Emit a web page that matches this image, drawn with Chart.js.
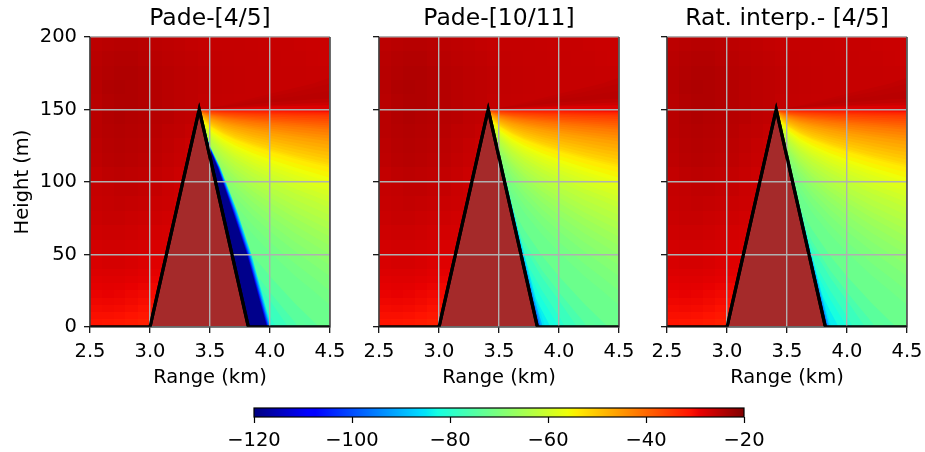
<!DOCTYPE html>
<html>
<head>
<meta charset="utf-8">
<title>Pade vs rational interpolation</title>
<script src="https://cdn.jsdelivr.net/npm/chart.js@4/dist/chart.umd.min.js"></script>
<style>
    body { margin: 0; background: #fff; }
    #wrap { position: relative; width: 925px; height: 452px; overflow: hidden; }
    canvas { position: absolute; left: 0; top: 0; }
</style>
</head>
<body>
<div id="wrap">
    <canvas id="panel0" width="925" height="452"></canvas>
    <canvas id="panel1" width="925" height="452"></canvas>
    <canvas id="panel2" width="1000" height="452"></canvas>
    <canvas id="colorbar" width="925" height="452"></canvas>
</div>
<script>
const panelTitles = ['Pade-[4/5]', 'Pade-[10/11]', 'Rat. interp.- [4/5]'];
const rangeTicks = [2.5, 3.0, 3.5, 4.0, 4.5];
const heightTicks = [0, 50, 100, 150, 200];
const colorbarTicks = [-120, -100, -80, -60, -40, -20];

// terrain outline
const terrainRange = [2.5, 3.0, 3.41, 3.82, 4.5];
const terrainHeight = [0, 0, 150, 0, 0];
const hillRange = [3.0, 3.41, 3.82];
const hillHeight = [0, 150, 0];

// lit field, dB, rows top to bottom. cell edges are cellRanges / cellTops
const cellRanges = [2.5, 2.6, 2.7, 2.8, 2.9, 3.0, 3.1, 3.2, 3.3, 3.4, 3.5, 3.6, 3.7, 3.8, 3.9, 4.0, 4.1, 4.2, 4.3, 4.4, 4.5];
const cellTops = [200, 190, 180, 170, 160, 150, 140, 130, 120, 110, 100, 90, 80, 70, 60, 50, 40, 35, 30, 25, 20, 15, 10, 5, 0];
const litField = [
    [-25.2, -25, -24.8, -24.8, -25, -25.2, -25.4, -25.6, -25.8, -26, -26, -26, -26, -26.1, -26.2, -26.2, -26.2, -26.3, -26.4, -26.4],
    [-25, -24.6, -24.4, -24.4, -24.8, -25, -25.2, -25.4, -25.6, -25.8, -25.8, -25.9, -26, -26, -26.1, -26.1, -26.2, -26.2, -26.3, -26.4],
    [-24.8, -24.4, -24.2, -24.2, -24.4, -24.8, -25, -25.2, -25.4, -25.6, -25.7, -25.8, -25.9, -26, -26, -26.1, -26.1, -26.1, -26.2, -26.2],
    [-24.8, -24.2, -24, -24.2, -24.4, -24.6, -25, -25.2, -25.4, -25.6, -25.7, -25.8, -25.9, -26, -26, -26.1, -26.1, -26.1, -26.1, -26.1],
    [-25, -24.4, -24.2, -24.2, -24.4, -24.6, -25, -25.2, -25.4, -25.7, -25.8, -25.9, -26, -26, -26, -26, -26, -26, -26, -26],
    [-25, -24.4, -24.2, -24.4, -24.6, -24.8, -25, -25.4, -25.6],
    [-25, -24.6, -24.4, -24.6, -24.8, -25, -25.4, -25.6, -26],
    [-25.2, -24.8, -24.6, -24.8, -25, -25.2, -25.6, -26, -26.4],
    [-25.4, -25, -24.8, -25, -25.2, -25.4, -25.8, -26.2, -26.6],
    [-25.8, -25.4, -25.2, -25.4, -25.6, -25.8, -26.2, -26.6, -27],
    [-26, -25.8, -25.6, -25.6, -25.8, -26, -26.4, -26.8, -27.2],
    [-26.2, -26, -25.8, -26, -26.2, -26.4, -26.6, -27, -27.4],
    [-26.4, -26.2, -26.2, -26.4, -26.6, -26.8, -27, -27.2, -27.6],
    [-26.8, -26.6, -26.6, -26.8, -27, -27.2, -27.4, -27.6],
    [-27.2, -27, -27, -27.2, -27.4, -27.6, -27.8],
    [-27.6, -27.4, -27.4, -27.6, -28, -28.2, -28.4],
    [-28, -27.9, -27.9, -28.1, -28.4, -28.7, -29],
    [-28.4, -28.2, -28.2, -28.5, -28.8, -29.2, -29.5],
    [-28.8, -28.6, -28.7, -29, -29.3, -29.7, -30],
    [-29.2, -29, -29.2, -29.5, -29.8, -30.2, -30.5],
    [-29.6, -29.5, -29.6, -29.9, -30.3, -30.7, -31],
    [-30.1, -30, -30.1, -30.4, -30.8, -31.2, -31.5],
    [-30.6, -30.6, -30.7, -31, -31.4, -31.8, -32.2],
    [-31, -31.2, -31.4, -31.8, -32.2, -32.8, -33.2]
];

// shadow zone as filled contours: height (m) of each level at contourRanges
const contourRanges = [3.43, 3.46, 3.51, 3.61, 3.71, 3.86, 4.01, 4.21, 4.36, 4.5];
const contourLevels = [-25.6, -25.2, -25, -25.6, -26.5, -28, -30, -32, -33, -34, -35, -36, -37, -38, -39, -40, -41, -42, -43, -44, -45, -46, -47, -48, -49, -50, -51, -52, -53, -54, -55, -56, -57, -58, -59, -60, -61, -62, -63, -64, -65, -66, -67, -68, -69, -70, -71, -72, -74, -76, -78, -80, -82, -84];
const contourHeights = [
    [150.3, 150.6, 151.5, 153, 155, 158, 161, 165, 168, 172],
    [150.2, 150.5, 151.2, 152.5, 154, 156.5, 159, 162, 165, 168],
    [150.2, 150.4, 151, 152, 153, 155, 157, 159, 161, 163],
    [150.1, 150.3, 150.7, 151.4, 152.2, 153.5, 155, 156, 157, 157.5],
    [150.1, 150.2, 150.5, 151, 151.5, 152.2, 153, 153.8, 154.4, 155],
    [150.1, 150.2, 150.3, 150.6, 151, 151.5, 152, 152.4, 152.8, 153],
    [150, 150, 150, 150, 150, 150, 150, 150, 150, 150],
    [149.8, 149.7, 149.6, 149.4, 149.2, 149.1, 148.9, 148.8, 148.6, 148.5],
    [149.7, 149.6, 149.4, 149.1, 148.8, 148.6, 148.4, 148.1, 147.9, 147.8],
    [149.6, 149.4, 149.1, 148.7, 148.4, 148.1, 147.8, 147.4, 147.2, 147],
    [149.5, 149.2, 148.8, 148.3, 147.9, 147.5, 147.1, 146.6, 146.3, 146],
    [149.3, 148.9, 148.5, 147.8, 147.4, 146.8, 146.3, 145.7, 145.3, 145],
    [149.1, 148.6, 148, 147.2, 146.6, 145.8, 145.2, 144.4, 143.9, 143.5],
    [148.9, 148.3, 147.5, 146.5, 145.8, 144.8, 144.1, 143.1, 142.5, 142],
    [148.7, 148, 147, 145.9, 145, 143.9, 143, 141.9, 141.2, 140.5],
    [148.5, 147.7, 146.6, 145.3, 144.2, 143, 141.9, 140.7, 139.8, 139],
    [148.3, 147.4, 146.2, 144.6, 143.4, 142, 140.8, 139.4, 138.4, 137.5],
    [148.1, 147.1, 145.7, 144, 142.6, 141, 139.7, 138.1, 137, 136],
    [147.8, 146.6, 145.1, 143.1, 141.5, 139.7, 138.2, 136.4, 135.1, 134],
    [147.6, 146.2, 144.5, 142.3, 140.5, 138.5, 136.8, 134.7, 133.3, 132],
    [147.3, 145.8, 143.9, 141.4, 139.4, 137.2, 135.3, 133, 131.4, 130],
    [147.1, 145.4, 143.3, 140.5, 138.4, 136, 133.8, 131.3, 129.6, 128],
    [146.7, 144.8, 142.5, 139.4, 137.1, 134.3, 131.9, 129.1, 127.2, 125.5],
    [146.4, 144.3, 141.7, 138.3, 135.8, 132.6, 130.1, 127, 124.9, 123],
    [146, 143.7, 141, 137.2, 134.4, 131, 128.2, 124.8, 122.5, 120.5],
    [145.7, 143.2, 140.2, 136.2, 133.1, 129.4, 126.4, 122.7, 120.2, 118],
    [145.3, 142.7, 139.4, 135.1, 131.8, 127.8, 124.5, 120.6, 117.9, 115.5],
    [145, 142.2, 138.7, 134.1, 130.5, 126.3, 122.7, 118.5, 115.7, 113],
    [144.8, 141.9, 138.2, 133.4, 129.7, 125.3, 121.6, 117.2, 114.2, 111.5],
    [144.6, 141.6, 137.7, 132.8, 128.9, 124.3, 120.5, 115.9, 112.8, 110],
    [144.1, 140.8, 136.6, 131.2, 127, 122, 117.9, 112.9, 109.5, 106.5],
    [143.7, 140.1, 135.6, 129.7, 125.2, 119.8, 115.3, 110, 106.3, 103],
    [143.3, 139.4, 134.6, 128.4, 123.6, 117.9, 113.1, 107.4, 103.5, 100],
    [142.9, 138.8, 133.7, 127.1, 122.1, 116, 110.9, 104.8, 100.7, 97],
    [142.4, 138.1, 132.6, 125.6, 120.2, 113.7, 108.3, 101.8, 97.4, 93.5],
    [142, 137.4, 131.6, 124.1, 118.4, 111.5, 105.7, 98.8, 94.2, 90],
    [141.4, 136.5, 130.4, 122.4, 116.3, 109, 102.8, 95.4, 90.6, 86],
    [140.9, 135.7, 129.2, 120.7, 114.2, 106.4, 100, 92.1, 87, 82],
    [140.2, 134.6, 127.6, 118.5, 111.5, 103.2, 96.2, 87.8, 82.2, 77],
    [139.5, 133.6, 126.1, 116.4, 108.9, 100, 92.5, 83.5, 77.5, 72],
    [138.8, 132.5, 124.5, 114.2, 106.2, 96.7, 88.8, 79.2, 72.8, 67],
    [138.2, 131.5, 123, 112.1, 103.6, 93.5, 85.1, 75, 68.2, 62],
    [137.4, 130.2, 121.1, 109.5, 100.4, 89.6, 80.6, 69.8, 62.6, 56],
    [136.6, 129, 119.3, 106.9, 97.3, 85.8, 76.2, 64.7, 57.1, 50],
    [135.6, 127.4, 117, 103.7, 93.4, 81, 70.7, 58.4, 50.2, 42.5],
    [134.6, 125.8, 114.8, 100.5, 89.5, 76.3, 65.3, 52.1, 43.3, 35],
    [133.3, 123.7, 111.7, 96.2, 84.2, 70, 58, 43.6, 34.1, 25],
    [132, 121.6, 108.7, 92, 79, 63.6, 50.7, 35.2, 25, 15],
    [129, 117, 102, 82, 67, 49, 34, 16, 4, 0],
    [127, 114, 97, 76, 59, 39, 23, 3, 0, 0],
    [126, 112, 95, 72, 55, 34, 17, 0, 0, 0],
    [124, 109, 90, 66, 47, 25, 6, 0, 0, 0],
    [123, 107, 88, 62, 43, 19, 0, 0, 0, 0],
    [121, 104, 83, 56, 36, 11, 0, 0, 0, 0]
];
// levels that meet the ground inside the panel, and where (km)
const footLevels = [-74, -76, -78, -80, -82, -84];
const footRanges = [4.41, 4.23, 4.15, 4.05, 4.0, 3.93];

// dark rim next to the lee slope: range (km) of each level at edgeHeights
const edgeHeights = [125, 110, 80, 50, 20, 0];
const edgeLevels = [-85, -90, -95, -100, -105, -112, -119];
const edgePade45 = [
    [3.497, 3.585, 3.725, 3.845, 3.944, 4.01],
    [3.495, 3.581, 3.718, 3.838, 3.937, 4.003],
    [3.493, 3.577, 3.712, 3.832, 3.931, 3.997],
    [3.492, 3.574, 3.705, 3.825, 3.924, 3.99],
    [3.49, 3.571, 3.7, 3.82, 3.919, 3.985],
    [3.489, 3.568, 3.695, 3.815, 3.914, 3.98],
    [3.487, 3.565, 3.69, 3.81, 3.909, 3.975]
];
const edgePade1011 = [
    [3.484, 3.53, 3.621, 3.711, 3.807, 3.885],
    [3.483, 3.526, 3.614, 3.701, 3.794, 3.865],
    [3.482, 3.524, 3.61, 3.695, 3.784, 3.85],
    [3.481, 3.522, 3.607, 3.691, 3.777, 3.84],
    [3.48, 3.521, 3.604, 3.688, 3.772, 3.832],
    [3.479, 3.52, 3.602, 3.685, 3.768, 3.825]
];
const edgeRatInterp = [
    [3.484, 3.527, 3.616, 3.705, 3.8, 3.87],
    [3.483, 3.525, 3.611, 3.699, 3.792, 3.855],
    [3.482, 3.523, 3.608, 3.694, 3.783, 3.843],
    [3.481, 3.522, 3.606, 3.691, 3.777, 3.835],
    [3.48, 3.521, 3.604, 3.688, 3.772, 3.829],
    [3.479, 3.52, 3.602, 3.685, 3.768, 3.824]
];
const panelEdges = [edgePade45, edgePade1011, edgeRatInterp];

// jet colormap anchors
const jetRed = [[0, 0], [0.35, 0], [0.66, 1], [0.89, 1], [1, 0.5]];
const jetGreen = [[0, 0], [0.125, 0], [0.375, 1], [0.64, 1], [0.91, 0], [1, 0]];
const jetBlue = [[0, 0.5], [0.11, 1], [0.34, 1], [0.65, 0], [1, 0]];
const colorbarStops = [0, 0.11, 0.125, 0.34, 0.35, 0.375, 0.64, 0.65, 0.66, 0.89, 0.91, 1];
const dbMin = -120;
const dbMax = -20;

function channel(anchors, t) {
    for (let i = 1; i < anchors.length; i++) {
        if (t <= anchors[i][0]) {
            const a = anchors[i - 1];
            const b = anchors[i];
            return a[1] + (b[1] - a[1]) * (t - a[0]) / (b[0] - a[0]);
        }
    }
    return anchors[anchors.length - 1][1];
}

function jetAt(t) {
    const r = Math.round(channel(jetRed, t) * 255);
    const g = Math.round(channel(jetGreen, t) * 255);
    const b = Math.round(channel(jetBlue, t) * 255);
    return `rgb(${r},${g},${b})`;
}

function jet(db) {
    return jetAt((db - dbMin) / (dbMax - dbMin));
}

function contourPoints(i) {
    const pts = [{ x: 3.41, y: 150 }];
    const f = footLevels.indexOf(contourLevels[i]);
    const foot = f >= 0 ? footRanges[f] : null;
    contourRanges.forEach((x, j) => {
        if (foot !== null && x >= foot) return;
        pts.push({ x: x, y: contourHeights[i][j] });
    });
    if (foot !== null) pts.push({ x: foot, y: 0 });
    return pts;
}

function edgePoints(row) {
    const pts = [{ x: 3.41, y: 150 }];
    edgeHeights.forEach((h, j) => pts.push({ x: row[j], y: h }));
    return pts;
}

function areaSet(points, color) {
    return {
        data: points,
        showLine: true,
        pointRadius: 0,
        borderWidth: 0,
        borderColor: color,
        backgroundColor: color,
        fill: 'origin',
        tension: 0
    };
}

function buildDatasets(p) {
    const sets = [];
    contourLevels.forEach((level, i) => sets.push(areaSet(contourPoints(i), jet(level))));
    panelEdges[p].forEach((row, i) => sets.push(areaSet(edgePoints(row), jet(edgeLevels[i]))));
    sets.push(areaSet(hillRange.map((x, i) => ({ x: x, y: hillHeight[i] })), '#a52a2a'));
    sets.push({
        data: terrainRange.map((x, i) => ({ x: x, y: terrainHeight[i] })),
        showLine: true,
        pointRadius: 0,
        borderWidth: 3.2,
        borderColor: '#000',
        borderJoinStyle: 'miter',
        fill: false,
        tension: 0
    });
    // later sets have to paint over earlier ones
    sets.forEach((s, i) => { s.order = sets.length - i; });
    return sets;
}

const litCells = {
    id: 'litCells',
    beforeDatasetsDraw(chart) {
        const { ctx, scales } = chart;
        litField.forEach((row, r) => {
            row.forEach((db, c) => {
                const x0 = Math.floor(scales.x.getPixelForValue(cellRanges[c]));
                const x1 = Math.ceil(scales.x.getPixelForValue(cellRanges[c + 1]));
                const y0 = Math.floor(scales.y.getPixelForValue(cellTops[r]));
                const y1 = Math.ceil(scales.y.getPixelForValue(cellTops[r + 1]));
                ctx.fillStyle = jet(db);
                ctx.fillRect(x0, y0, x1 - x0, y1 - y0);
            });
        });
    }
};

// grid sits above the fills, the terrain line and spines above the grid
const frameOnTop = {
    id: 'frameOnTop',
    afterDraw(chart) {
        const { ctx, chartArea } = chart;
        const terrain = chart.getSortedVisibleDatasetMetas()[0];
        ctx.save();
        ctx.beginPath();
        ctx.rect(chartArea.left, chartArea.top, chartArea.width, chartArea.height);
        ctx.clip();
        terrain.dataset.draw(ctx, chartArea);
        ctx.restore();
        ctx.save();
        ctx.strokeStyle = '#222';
        ctx.lineWidth = 1.2;
        ctx.beginPath();
        ctx.moveTo(chartArea.left, chartArea.top);
        ctx.lineTo(chartArea.left, chartArea.bottom);
        ctx.lineTo(chartArea.right, chartArea.bottom);
        ctx.lineTo(chartArea.right, chartArea.top);
        ctx.stroke();
        ctx.restore();
    }
};

const baseFont = { family: '"DejaVu Sans"', size: 19.5 };

function makePanel(p, left, axisWidth, right) {
    new Chart(document.getElementById('panel' + p), {
        type: 'scatter',
        data: { datasets: buildDatasets(p) },
        options: {
            responsive: false,
            animation: false,
            events: [],
            layout: { padding: { left: left, right: right, top: 0, bottom: 62 } },
            plugins: {
                legend: { display: false },
                tooltip: { enabled: false },
                title: {
                    display: true,
                    text: panelTitles[p],
                    color: '#000',
                    fullSize: false,
                    font: { family: '"DejaVu Sans"', size: 23.5, weight: 'normal' },
                    padding: { top: 5, bottom: 3.8 }
                }
            },
            scales: {
                x: {
                    type: 'linear',
                    min: 2.5,
                    max: 4.5,
                    afterBuildTicks(scale) { scale.ticks = rangeTicks.map(v => ({ value: v })); },
                    afterFit(scale) { scale.height = 63; },
                    grid: { color: '#b0b0b0', lineWidth: 1.4, z: 1, tickColor: '#000', tickLength: 6, tickWidth: 1.2 },
                    border: { display: false },
                    ticks: { color: '#000', font: baseFont, padding: 7, maxRotation: 0, callback: v => v.toFixed(1) },
                    title: { display: true, text: 'Range (km)', color: '#000', font: baseFont, padding: { top: 0, bottom: 0 } }
                },
                y: {
                    type: 'linear',
                    min: 0,
                    max: 200,
                    afterBuildTicks(scale) { scale.ticks = heightTicks.map(v => ({ value: v })); },
                    afterFit(scale) { scale.width = axisWidth; },
                    grid: { color: '#b0b0b0', lineWidth: 1.4, z: 1, tickColor: '#000', tickLength: 6, tickWidth: 1.2 },
                    border: { display: false },
                    ticks: { display: p === 0, color: '#000', font: baseFont, padding: 7 },
                    title: { display: p === 0, text: 'Height (m)', color: '#000', font: baseFont, padding: { top: 11, bottom: 0 } }
                }
            }
        },
        plugins: [litCells, frameOnTop]
    });
}

makePanel(0, 0, 90, 595);
makePanel(1, 349, 30, 306);
// this canvas runs past the window so the last tick label has room
makePanel(2, 637, 30, 93);

new Chart(document.getElementById('colorbar'), {
    type: 'bar',
    data: {
        labels: ['dB'],
        datasets: [{
            data: [[dbMin, dbMax]],
            barPercentage: 1,
            categoryPercentage: 1,
            borderWidth: 0,
            backgroundColor(ctx) {
                const area = ctx.chart.chartArea;
                if (!area) return '#000';
                const g = ctx.chart.ctx.createLinearGradient(area.left, 0, area.right, 0);
                colorbarStops.forEach(t => g.addColorStop(t, jetAt(t)));
                return g;
            }
        }]
    },
    options: {
        indexAxis: 'y',
        responsive: false,
        animation: false,
        events: [],
        layout: { padding: { left: 254, right: 181, top: 408, bottom: 0 } },
        plugins: { legend: { display: false }, tooltip: { enabled: false } },
        scales: {
            x: {
                type: 'linear',
                min: dbMin,
                max: dbMax,
                afterBuildTicks(scale) { scale.ticks = colorbarTicks.map(v => ({ value: v })); },
                afterFit(scale) { scale.height = 35; },
                grid: { drawOnChartArea: false, tickColor: '#000', tickLength: 6, tickWidth: 1.2 },
                border: { display: false },
                ticks: { color: '#000', font: baseFont, padding: 6, maxRotation: 0, callback: v => String(v).replace('-', '\u2212') }
            },
            y: {
                display: false
            }
        }
    },
    plugins: [{
        id: 'barFrame',
        afterDraw(chart) {
            const { ctx, chartArea } = chart;
            ctx.save();
            ctx.strokeStyle = '#000';
            ctx.lineWidth = 1.2;
            ctx.strokeRect(chartArea.left, chartArea.top, chartArea.width, chartArea.height);
            ctx.restore();
        }
    }]
});
</script>
</body>
</html>
